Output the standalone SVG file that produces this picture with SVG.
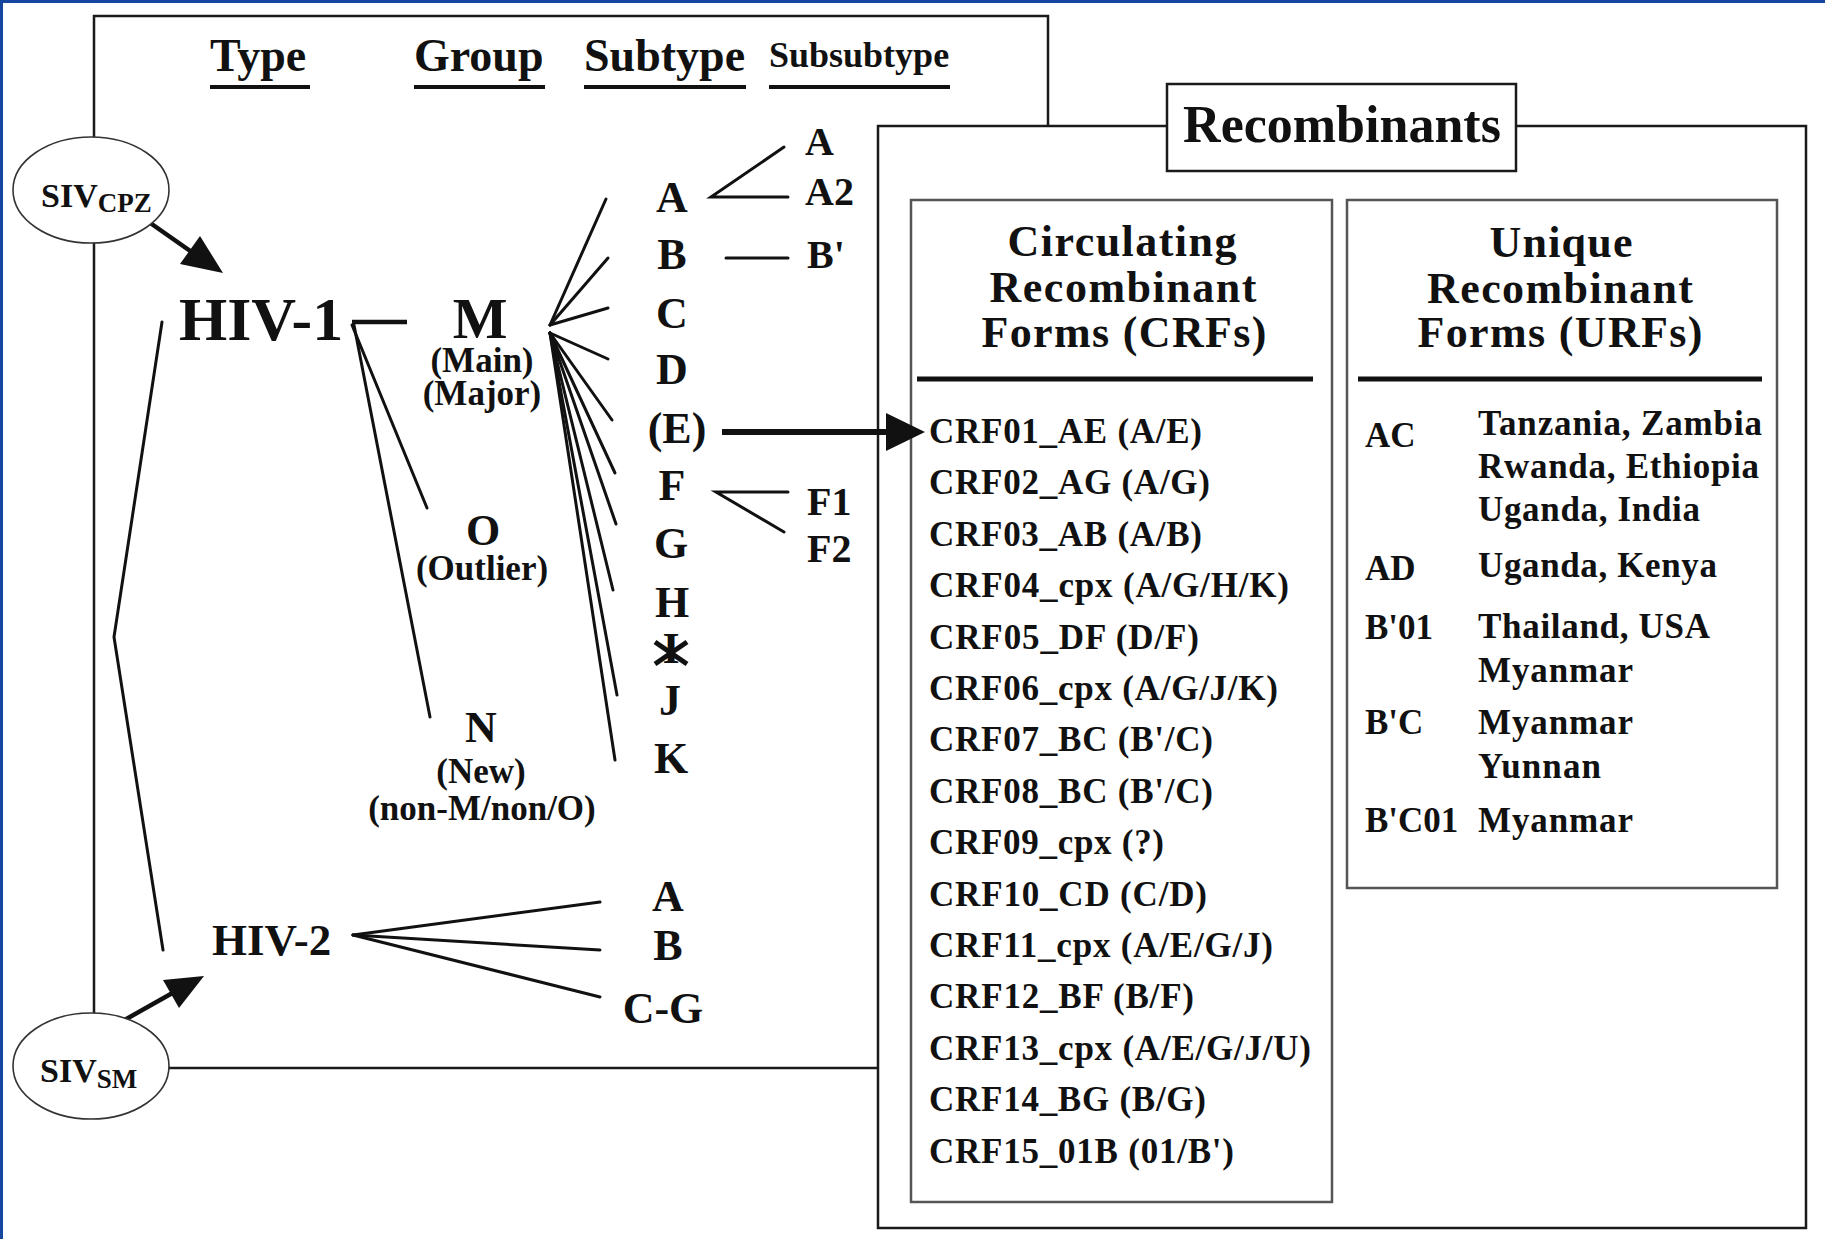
<svg xmlns="http://www.w3.org/2000/svg" width="1825" height="1239" viewBox="0 0 1825 1239">
<defs>
<style>
.t{font-family:"Liberation Serif","Times New Roman",serif;font-weight:bold;fill:#111;}
.m{text-anchor:middle;}
.h{font-size:46px;}
.sub{font-size:44px;}
.ss{font-size:40px;}
.g2{font-size:35px;}
.crf{font-size:35px;}
.hd{font-size:44px;text-anchor:middle;}
.ln{stroke:#111;stroke-width:3;fill:none;stroke-linecap:round;}
.ul{stroke:#111;stroke-width:4;}
.box{fill:#fff;stroke:#1a1a1a;stroke-width:2.5;}
.ibox{fill:#fff;stroke:#555;stroke-width:2.5;}
.ell{fill:#fff;stroke:#333;stroke-width:1.6;}
.rule{stroke:#111;stroke-width:5;}
</style>
</defs>
<rect x="0" y="0" width="1825" height="1239" fill="#fff"/>
<g id="page-border">
<line x1="0" y1="1.5" x2="1825" y2="1.5" stroke="#1446a0" stroke-width="3"/>
<line x1="1.5" y1="0" x2="1.5" y2="1239" stroke="#1446a0" stroke-width="3"/>
</g>
<g id="classification-box">
<rect class="box" x="94" y="16" width="954" height="1052" fill="none"/>
<text class="t h" x="210" y="71">Type</text>
<line class="ul" x1="210" y1="87" x2="310" y2="87"/>
<text class="t h" x="414" y="71">Group</text>
<line class="ul" x1="414" y1="87" x2="545" y2="87"/>
<text class="t h" x="584" y="71">Subtype</text>
<line class="ul" x1="584" y1="87" x2="746" y2="87"/>
<text class="t" x="769" y="67" font-size="36">Subsubtype</text>
<line class="ul" x1="769" y1="87" x2="950" y2="87"/>
</g>
<g id="recombinants-box">
<rect class="box" x="878" y="126" width="928" height="1102"/>
<rect class="box" x="1167" y="84" width="349" height="87" stroke-width="3"/>
<text class="t m" x="1342" y="142" font-size="52">Recombinants</text>
</g>
<g id="crf-box">
<rect class="ibox" x="911" y="200" width="421" height="1002"/>
<text class="t hd" x="1122" y="256" textLength="229">Circulating</text>
<text class="t hd" x="1123" y="302" textLength="267">Recombinant</text>
<text class="t hd" x="1124" y="347" textLength="285">Forms (CRFs)</text>
<line class="rule" x1="917" y1="379" x2="1313" y2="379"/>
<text class="t crf" x="929" y="443" textLength="273">CRF01_AE (A/E)</text>
<text class="t crf" x="929" y="494.4" textLength="281">CRF02_AG (A/G)</text>
<text class="t crf" x="929" y="545.8" textLength="273">CRF03_AB (A/B)</text>
<text class="t crf" x="929" y="597.2" textLength="360">CRF04_cpx (A/G/H/K)</text>
<text class="t crf" x="929" y="648.6" textLength="270">CRF05_DF (D/F)</text>
<text class="t crf" x="929" y="700" textLength="349">CRF06_cpx (A/G/J/K)</text>
<text class="t crf" x="929" y="751.4" textLength="284">CRF07_BC (B'/C)</text>
<text class="t crf" x="929" y="802.8" textLength="284">CRF08_BC (B'/C)</text>
<text class="t crf" x="929" y="854.2" textLength="235">CRF09_cpx (?)</text>
<text class="t crf" x="929" y="905.6" textLength="278">CRF10_CD (C/D)</text>
<text class="t crf" x="929" y="957" textLength="344">CRF11_cpx (A/E/G/J)</text>
<text class="t crf" x="929" y="1008.4" textLength="265">CRF12_BF (B/F)</text>
<text class="t crf" x="929" y="1059.8" textLength="382">CRF13_cpx (A/E/G/J/U)</text>
<text class="t crf" x="929" y="1111.2" textLength="277">CRF14_BG (B/G)</text>
<text class="t crf" x="929" y="1162.6" textLength="305">CRF15_01B (01/B')</text>
</g>
<g id="urf-box">
<rect class="ibox" x="1347" y="200" width="430" height="688"/>
<text class="t hd" x="1561" y="257" textLength="143">Unique</text>
<text class="t hd" x="1560" y="303" textLength="266">Recombinant</text>
<text class="t hd" x="1560" y="347" textLength="285">Forms (URFs)</text>
<line class="rule" x1="1358" y1="379" x2="1762" y2="379"/>
<text class="t crf" x="1365" y="447">AC</text>
<text class="t crf" x="1478" y="435" textLength="284">Tanzania, Zambia</text>
<text class="t crf" x="1478" y="478" textLength="281">Rwanda, Ethiopia</text>
<text class="t crf" x="1478" y="521" textLength="222">Uganda, India</text>
<text class="t crf" x="1365" y="580">AD</text>
<text class="t crf" x="1478" y="577" textLength="239">Uganda, Kenya</text>
<text class="t crf" x="1365" y="639">B'01</text>
<text class="t crf" x="1478" y="638" textLength="232">Thailand, USA</text>
<text class="t crf" x="1478" y="682" textLength="155">Myanmar</text>
<text class="t crf" x="1365" y="734">B'C</text>
<text class="t crf" x="1478" y="734" textLength="155">Myanmar</text>
<text class="t crf" x="1478" y="778" textLength="123">Yunnan</text>
<text class="t crf" x="1365" y="832">B'C01</text>
<text class="t crf" x="1478" y="832" textLength="155">Myanmar</text>
</g>
<g id="connectors">
<line x1="146" y1="220" x2="196" y2="255" stroke="#111" stroke-width="4.5"/>
<polygon points="223,273 180,264 200,236" fill="#111"/>
<line x1="121" y1="1022" x2="176" y2="991" stroke="#111" stroke-width="4.5"/>
<polygon points="204,976 179,1008 163,980" fill="#111"/>
<polyline class="ln" points="162,322 114,637 163,950"/>
<line x1="352" y1="322" x2="407" y2="322" stroke="#111" stroke-width="4.5"/>
<line class="ln" x1="352" y1="325" x2="427" y2="508"/>
<line class="ln" x1="354" y1="325" x2="430" y2="717"/>
<line class="ln" x1="550" y1="325" x2="606" y2="199"/>
<line class="ln" x1="550" y1="325" x2="608" y2="258"/>
<line class="ln" x1="550" y1="325" x2="608" y2="308"/>
<line class="ln" x1="550" y1="333" x2="608" y2="359"/>
<line class="ln" x1="550" y1="333" x2="612" y2="420"/>
<line class="ln" x1="550" y1="333" x2="615" y2="473"/>
<line class="ln" x1="550" y1="333" x2="616" y2="524"/>
<line class="ln" x1="550" y1="333" x2="613" y2="590"/>
<line class="ln" x1="550" y1="333" x2="617" y2="695"/>
<line class="ln" x1="550" y1="333" x2="615" y2="760"/>
<polyline class="ln" points="784,147 711,197 788,197"/>
<line class="ln" x1="726" y1="258" x2="788" y2="258"/>
<polyline class="ln" points="788,492 716,492 784,532"/>
<line class="ln" x1="353" y1="935" x2="600" y2="902"/>
<line class="ln" x1="353" y1="935" x2="600" y2="950"/>
<line class="ln" x1="353" y1="935" x2="600" y2="997"/>
<line x1="722" y1="432" x2="890" y2="432" stroke="#111" stroke-width="6"/>
<polygon points="886,413 925,432 886,451" fill="#111"/>
</g>
<g id="siv-cpz">
<ellipse class="ell" cx="91" cy="190" rx="78" ry="53"/>
<text class="t" x="41" y="207" font-size="34">SIV<tspan font-size="27" dy="5">CPZ</tspan></text>
</g>
<g id="siv-sm">
<ellipse class="ell" cx="91" cy="1066" rx="78" ry="53"/>
<text class="t" x="40" y="1082" font-size="34">SIV<tspan font-size="27" dy="6">SM</tspan></text>
</g>
<g id="hiv-1"><text class="t" x="179" y="340" font-size="62">HIV-1</text></g>
<g id="hiv-2"><text class="t" x="212" y="955" font-size="45">HIV-2</text></g>
<g id="group-m">
<text class="t m" x="480" y="338" font-size="58">M<tspan class="g2" x="482" y="372">(Main)</tspan><tspan class="g2" x="482" y="405">(Major)</tspan></text>
</g>
<g id="group-o">
<text class="t m" x="483" y="545" font-size="44">O<tspan class="g2" x="482" y="580">(Outlier)</tspan></text>
</g>
<g id="group-n">
<text class="t m" x="481" y="742" font-size="44">N<tspan class="g2" x="481" y="783">(New)</tspan><tspan class="g2" x="482" y="820">(non-M/non/O)</tspan></text>
</g>
<g id="subtype-a"><text class="t m sub" x="672" y="212">A</text></g>
<g id="subtype-b"><text class="t m sub" x="672" y="269">B</text></g>
<g id="subtype-c"><text class="t m sub" x="672" y="328">C</text></g>
<g id="subtype-d"><text class="t m sub" x="672" y="384">D</text></g>
<g id="subtype-e"><text class="t m sub" x="677" y="443">(E)</text></g>
<g id="subtype-f"><text class="t m sub" x="672" y="500">F</text></g>
<g id="subtype-g"><text class="t m sub" x="671" y="558">G</text></g>
<g id="subtype-h"><text class="t m sub" x="672" y="617">H</text></g>
<g id="subtype-i">
<text class="t m sub" x="671" y="663">I</text>
<line x1="655" y1="642" x2="687" y2="664" stroke="#111" stroke-width="5"/>
<line x1="655" y1="664" x2="687" y2="642" stroke="#111" stroke-width="5"/>
</g>
<g id="subtype-j"><text class="t m sub" x="670" y="715">J</text></g>
<g id="subtype-k"><text class="t m sub" x="671" y="773">K</text></g>
<g id="subsubtype-a1"><text class="t ss" x="805" y="155">A</text></g>
<g id="subsubtype-a2"><text class="t ss" x="805" y="205">A2</text></g>
<g id="subsubtype-b"><text class="t ss" x="807" y="268">B'</text></g>
<g id="subsubtype-f1"><text class="t ss" x="807" y="515">F1</text></g>
<g id="subsubtype-f2"><text class="t ss" x="807" y="562">F2</text></g>
<g id="hiv2-a"><text class="t m sub" x="668" y="911">A</text></g>
<g id="hiv2-b"><text class="t m sub" x="668" y="960">B</text></g>
<g id="hiv2-cg"><text class="t m sub" x="663" y="1023">C-G</text></g>
</svg>
